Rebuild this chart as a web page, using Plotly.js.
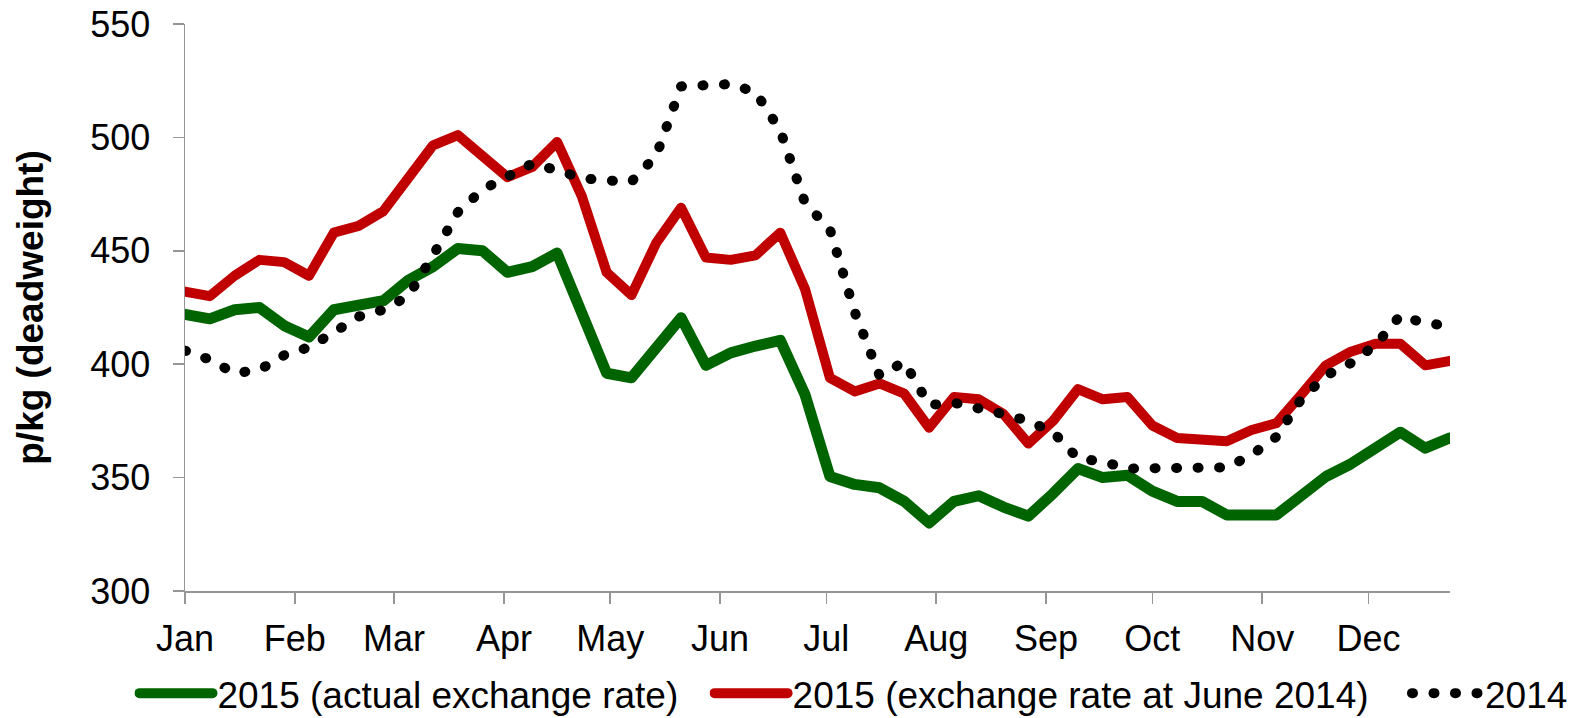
<!DOCTYPE html>
<html><head><meta charset="utf-8">
<script src="https://cdn.plot.ly/plotly-3.0.1.min.js"></script>
<style>html,body{margin:0;padding:0;background:#fff}#chart{width:1580px;height:718px}</style>
</head><body><div id="chart"></div>
<script>
const weeks = ['2015-01-01','2015-01-08','2015-01-15','2015-01-22','2015-01-29',
  '2015-02-05','2015-02-12','2015-02-19','2015-02-26',
  '2015-03-05','2015-03-12','2015-03-19','2015-03-26',
  '2015-04-02','2015-04-09','2015-04-16','2015-04-23','2015-04-30',
  '2015-05-07','2015-05-14','2015-05-21','2015-05-28',
  '2015-06-04','2015-06-11','2015-06-18','2015-06-25',
  '2015-07-02','2015-07-09','2015-07-16','2015-07-23','2015-07-30',
  '2015-08-06','2015-08-13','2015-08-20','2015-08-27',
  '2015-09-03','2015-09-10','2015-09-17','2015-09-24',
  '2015-10-01','2015-10-08','2015-10-15','2015-10-22','2015-10-29',
  '2015-11-05','2015-11-12','2015-11-19','2015-11-26',
  '2015-12-03','2015-12-10','2015-12-17','2015-12-24'];
const monthTicks = ['2015-01-01','2015-02-01','2015-03-01','2015-04-01','2015-05-01','2015-06-01',
  '2015-07-01','2015-08-01','2015-09-01','2015-10-01','2015-11-01','2015-12-01'];
const monthLabels = ['Jan','Feb','Mar','Apr','May','Jun','Jul','Aug','Sep','Oct','Nov','Dec'];
const yTicks = [300, 350, 400, 450, 500, 550];

const actual2015 = [422, 420, 424, 425, 417, 412, 424, 426, 428, 437,
  443, 451, 450, 440.5, 443, 449, 424, 396, 394, 408,
  420.5, 399.5, 405, 408, 410.5, 386.5, 350.5, 347, 345.5, 339.5,
  330, 339.5, 342, 337, 333, 343, 354, 350, 351, 344,
  339.5, 339.5, 333.5, 333.5, 333.5, 342, 350.5, 356, 363, 370,
  363, 367.5];
const june2014Rate2015 = [432, 430, 439, 446, 445, 439, 458, 461, 467.5, 482,
  496.5, 501, 492, 482.5, 487, 498, 474, 440.5, 430.5, 453.5,
  469, 447, 446, 448, 458, 433, 394, 388, 391.5, 387,
  372, 385.5, 384.5, 378, 365, 375, 389, 384.5, 385.5, 373,
  367.5, 367, 366, 371, 374, 386.5, 399.5, 405.5, 409, 409,
  399.5, 401.5];
const prices2014 = [406, 402, 396, 397.5, 404, 407.5, 414, 421, 424, 430,
  448, 467, 477, 483, 488.5, 485.5, 482, 481, 480.5, 492,
  522.5, 523, 523.5, 520, 503, 471, 459.5, 423, 395, 401,
  382, 383, 381, 378, 375, 370, 358.5, 357, 354, 354,
  354, 353.5, 354.5, 360, 368, 384.5, 395, 400.5, 408.5, 421.5,
  418, 417];
const seriesNames = ['2015 (actual exchange rate)', '2015 (exchange rate at June 2014)', '2014'];

const traces = [
  {x: weeks, y: actual2015, name: seriesNames[0], type: 'scatter', mode: 'lines', legend: 'legend',
   line: {color: '#006400', width: 11}},
  {x: weeks, y: june2014Rate2015, name: seriesNames[1], type: 'scatter', mode: 'lines', legend: 'legend2',
   line: {color: '#C00000', width: 10}},
  {x: weeks, y: prices2014, name: seriesNames[2], type: 'scatter', mode: 'lines', legend: 'legend3',
   line: {color: '#000000', width: 10, dash: '1px,20.5px'}}
];

function legendAt(xFrac, symbolWidth) {
  return {orientation: 'h', xref: 'container', yref: 'container', x: xFrac, xanchor: 'left',
    y: 0.034, yanchor: 'middle', itemwidth: symbolWidth, font: {size: 37},
    bgcolor: 'rgba(0,0,0,0)', borderwidth: 0};
}

const axisGrey = '#969696';
const layout = {
  width: 1580, height: 718,
  margin: {l: 185, r: 130, t: 24, b: 127},
  paper_bgcolor: '#ffffff', plot_bgcolor: '#ffffff',
  font: {family: 'Liberation Sans, Arial, sans-serif', size: 36, color: '#000000'},
  showlegend: true,
  legend: legendAt(0.0851, 73),
  legend2: legendAt(0.4491, 73),
  legend3: legendAt(0.8905, 68),
  xaxis: {type: 'date', range: ['2015-01-01', '2015-12-24'], tickvals: monthTicks, ticktext: monthLabels,
    showline: true, linecolor: axisGrey, linewidth: 1.5, ticks: 'outside', ticklen: 11,
    tickcolor: axisGrey, tickwidth: 1.5, showgrid: false, zeroline: false, ticklabelstandoff: 4},
  yaxis: {range: [300, 550], tickvals: yTicks, showline: true, linecolor: axisGrey, linewidth: 1.5,
    ticks: 'outside', ticklen: 11, tickcolor: axisGrey, tickwidth: 1.5, showgrid: false, zeroline: false,
    ticklabelstandoff: 15,
    title: {text: 'p/kg (deadweight)', font: {size: 37, weight: 'bold'}, standoff: 35}}
};

Plotly.newPlot('chart', traces, layout, {displayModeBar: false, staticPlot: true}).then(function (gd) {
  gd.querySelectorAll('.scatterlayer .js-line').forEach(function (p) {
    p.style.strokeLinejoin = 'round';
    p.style.strokeLinecap = 'round';
  });
  gd.querySelectorAll('.legend .js-line, .legendlines path').forEach(function (p) {
    p.style.strokeLinecap = 'round';
  });
});
</script></body></html>
